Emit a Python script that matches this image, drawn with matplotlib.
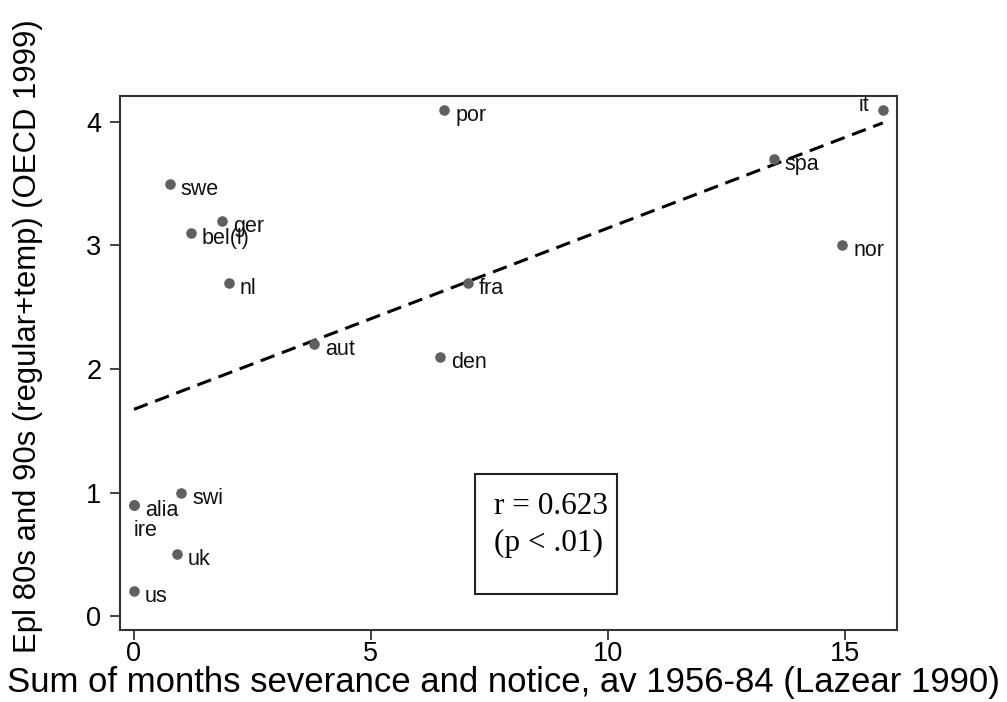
import matplotlib
matplotlib.use("Agg")
import matplotlib.pyplot as plt
import numpy as np
from matplotlib.patches import Rectangle

# countries, Lazear severance months (x) and OECD EPL index (y)
countries = ["por", "it", "spa", "swe", "ger", "bel(l)", "nl", "nor", "fra",
             "aut", "den", "alia", "ire", "swi", "uk", "us"]
severance = [6.55, 15.8, 13.5, 0.75, 1.85, 1.2, 2.0, 14.95, 7.05,
             3.8, 6.45, 0.0, 0.0, 1.0, 0.9, 0.0]
epl = [4.1, 4.1, 3.7, 3.5, 3.2, 3.1, 2.7, 3.0, 2.7,
       2.2, 2.1, 0.9, 0.9, 1.0, 0.5, 0.2]

# label offsets in pixels (dx, dy), default is right and slightly below
offsets = {"it": (-13, -1), "ire": (0, -31)}

plt.rcParams['font.family'] = ['Liberation Sans', 'DejaVu Sans']

fig = plt.figure(figsize=(10.07, 7.02), dpi=100)
ax = fig.add_axes([120 / 1007, 1 - 630 / 702, 777 / 1007, 534 / 702])

x = np.array(severance)
y = np.array(epl)

ax.scatter(x, y, s=58, color="#606060", zorder=3, linewidths=0)

# linear fit over data range
b, a = np.polyfit(x, y, 1)
xs = np.array([x.min(), x.max()])
ax.plot(xs, a + b * xs, color="black", lw=2.2, ls=(0, (4.8, 2.6)), zorder=2)

for name, xi, yi in zip(countries, severance, epl):
    dx, dy = offsets.get(name, (11, -11))
    ha = "right" if name == "it" else "left"
    ax.annotate(name, (xi, yi), xytext=(dx * 0.72, dy * 0.72),
                textcoords="offset points", ha=ha, va="baseline",
                fontsize=15.5, color="#111111")

ax.set_xlim(-0.295, 16.1)
ax.set_ylim(-0.113, 4.21)
ax.set_xticks([0, 5, 10, 15])
ax.set_yticks([0, 1, 2, 3, 4])

for s in ax.spines.values():
    s.set_linewidth(1.5)
    s.set_color("#333333")

ax.tick_params(axis="both", direction="out", length=7.5, width=1.2,
               color="#222222", labelsize=19.5)
ax.tick_params(axis="x", pad=0.5)
ax.tick_params(axis="y", pad=6)

ax.set_xlabel("Sum of months severance and notice, av 1956-84 (Lazear 1990)",
              fontsize=25)
ax.xaxis.set_label_coords(0.494, -0.068)
ax.set_ylabel("Epl 80s and 90s (regular+temp) (OECD 1999)", fontsize=22.4)
ax.yaxis.set_label_coords(-0.099, 0.55)

# correlation box
box_x0, box_y0, box_x1, box_y1 = 475, 474, 617, 594
fx = lambda px: (px - 120) / 777
fy = lambda py: (630 - py) / 534
ax.add_patch(Rectangle((fx(box_x0), fy(box_y1)), fx(box_x1) - fx(box_x0),
                       fy(box_y0) - fy(box_y1), transform=ax.transAxes,
                       fill=False, lw=1.5, ec="#222222"))
ax.text(fx(494), fy(514), "r = 0.623", transform=ax.transAxes,
        family="Liberation Serif", fontsize=22.5, va="baseline")
ax.text(fx(494), fy(551), "(p < .01)", transform=ax.transAxes,
        family="Liberation Serif", fontsize=22.5, va="baseline")

fig.savefig("out.png", dpi=100)
